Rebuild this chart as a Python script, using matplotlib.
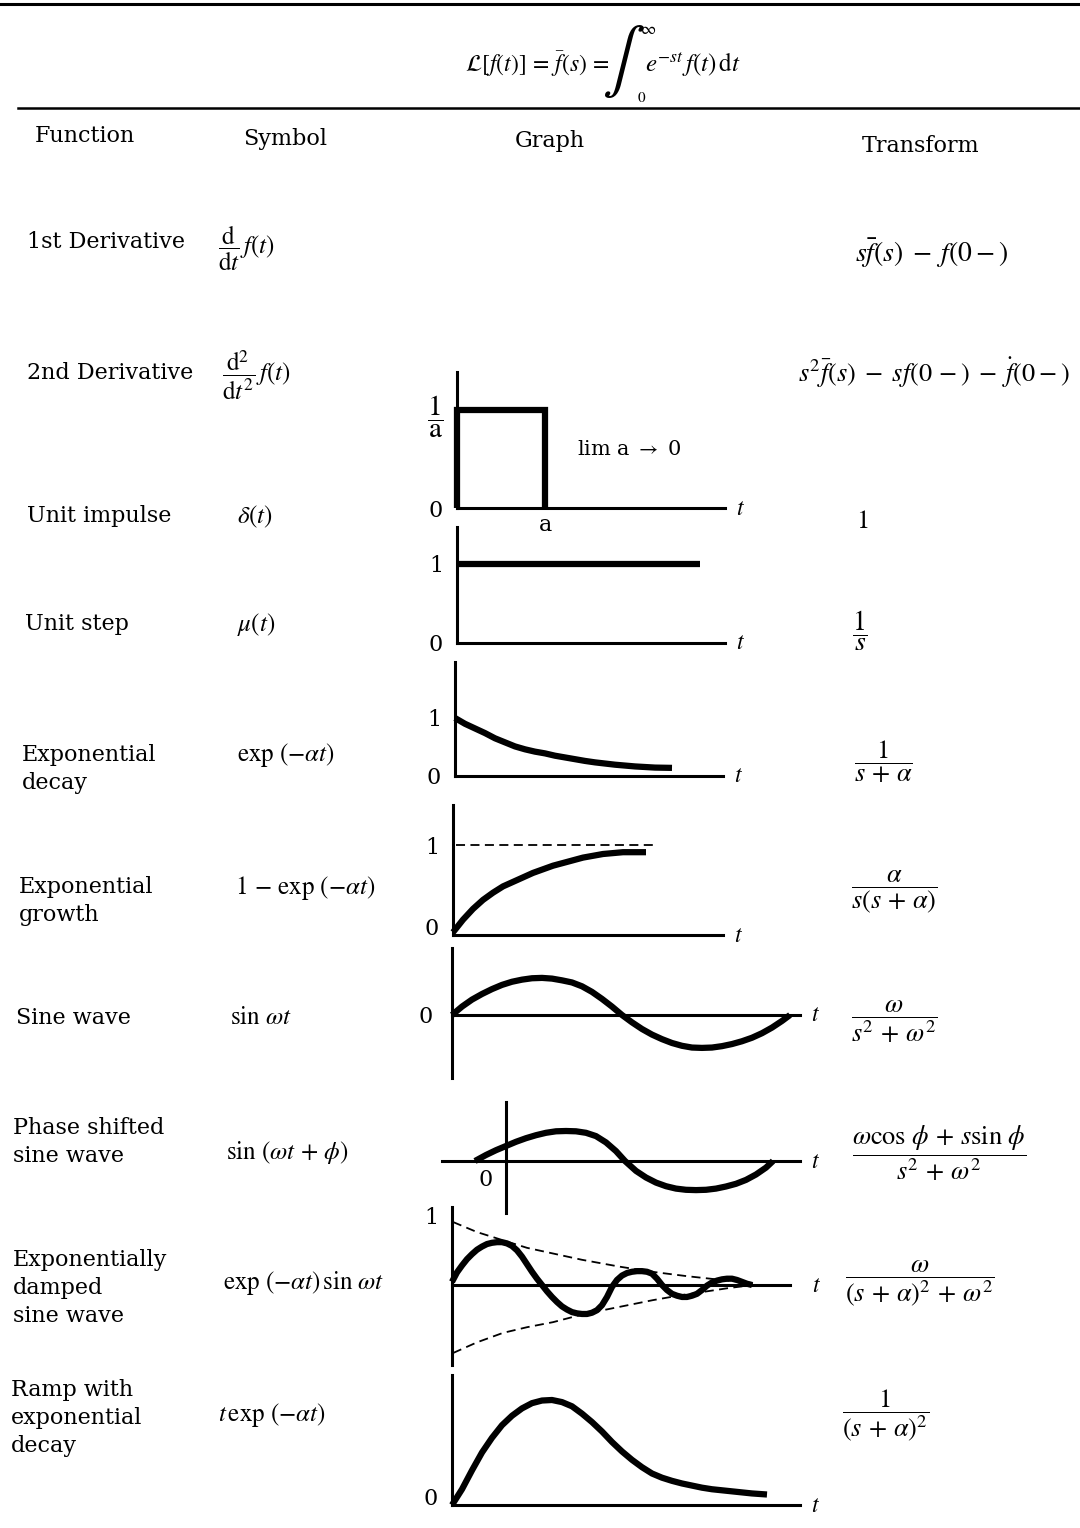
import numpy as np
import matplotlib.pyplot as plt
from matplotlib.lines import Line2D

plt.rcParams['font.family'] = 'DejaVu Serif'
plt.rcParams['mathtext.fontset'] = 'stix'

W, H = 1080, 1528

# table text
functions = ['1st Derivative', '2nd Derivative', 'Unit impulse', 'Unit step',
             'Exponential\ndecay', 'Exponential\ngrowth', 'Sine wave',
             'Phase shifted\nsine wave', 'Exponentially\ndamped\nsine wave',
             'Ramp with\nexponential\ndecay']
symbols = [r'$\dfrac{\mathrm{d}}{\mathrm{d}t}\,f(t)$',
           r'$\dfrac{\mathrm{d}^2}{\mathrm{d}t^2}\,f(t)$',
           r'$\delta(t)$', r'$\mu(t)$',
           r'$\exp\,(-\alpha t)$', r'$1\,-\,\exp\,(-\alpha t)$',
           r'$\sin\,\omega t$', r'$\sin\,(\omega t\,+\,\phi)$',
           r'$\exp\,(-\alpha t)\,\sin\,\omega t$', r'$t\,\exp\,(-\alpha t)$']
transforms = [r'$s\bar{f}(s)\;-\;f(0-)$',
              r'$s^2\bar{f}(s)\;-\;sf(0\,-)\;-\;\dot{f}(0-)$',
              r'$1$', r'$\dfrac{1}{s}$', r'$\dfrac{1}{s\,+\,\alpha}$',
              r'$\dfrac{\alpha}{s(s\,+\,\alpha)}$',
              r'$\dfrac{\omega}{s^2\,+\,\omega^2}$',
              r'$\dfrac{\omega\cos\,\phi\,+\,s\sin\,\phi}{s^2\,+\,\omega^2}$',
              r'$\dfrac{\omega}{(s\,+\,\alpha)^2\,+\,\omega^2}$',
              r'$\dfrac{1}{(s\,+\,\alpha)^2}$']
headers = ['Function', 'Symbol', 'Graph', 'Transform']

# graph values
impulse_t = [0, 0, 1, 1]
impulse_y = [0, 1, 1, 0]
step_t = [0, 2.43]
step_y = [1, 1]
decay_t = [0, .1, .2, .3, .4, .5, .6, .7, .8, .9, 1.0, 1.1, 1.2, 1.3, 1.4,
           1.5, 1.6, 1.7, 1.8, 1.9, 2.0, 2.17]
decay_y = [1.0, .90, .82, .74, .65, .58, .51, .46, .42, .39, .35, .32, .29,
           .26, .235, .215, .195, .18, .165, .155, .145, .14]
growth_t = [0, .1, .2, .3, .4, .5, .6, .7, .8, .9, 1.0, 1.1, 1.2, 1.3, 1.4,
            1.5, 1.6, 1.7, 1.8, 1.93]
growth_y = [.03, .17, .29, .39, .47, .54, .59, .64, .69, .73, .77, .80, .83,
            .86, .88, .90, .91, .92, .92, .92]
growth_limit_t = [0.03, 2.02]
growth_limit_y = [1, 1]
sine_t = [0, .1, .2, .3, .4, .5, .6, .7, .8, .9, 1.0, 1.1, 1.2, 1.3, 1.4,
          1.5, 1.6, 1.7, 1.8, 1.9, 2.0, 2.1, 2.2, 2.3, 2.4, 2.5, 2.6, 2.7,
          2.8, 2.9, 3.0, 3.1, 3.2, 3.3, 3.38]
sine_y = [0, .24, .44, .60, .74, .86, .95, 1.01, 1.05, 1.06, 1.04, .99, .93,
          .82, .66, .46, .24, 0, -.21, -.40, -.56, -.69, -.80, -.88, -.93,
          -.94, -.93, -.89, -.83, -.75, -.65, -.52, -.36, -.17, 0]
phase_t = [-.31, -.2, -.1, 0, .1, .2, .3, .4, .5, .6, .7, .8, .9, 1.0, 1.1,
           1.19, 1.3, 1.4, 1.5, 1.6, 1.7, 1.8, 1.9, 2.0, 2.1, 2.2, 2.3, 2.4,
           2.5, 2.6, 2.67]
phase_y = [0, .20, .36, .50, .64, .76, .86, .94, .99, 1.0, .99, .94, .83,
           .62, .33, 0, -.33, -.55, -.72, -.84, -.92, -.96, -.97, -.96, -.92,
           -.85, -.76, -.63, -.45, -.22, 0]
damped_t = [0, .05, .1, .15, .2, .25, .3, .35, .4, .45, .5, .55, .6, .65, .7,
            .75, .8, .85, .9, .95, 1.0, 1.05, 1.1, 1.15, 1.2, 1.25, 1.3, 1.35,
            1.4, 1.45, 1.5, 1.55, 1.6, 1.65, 1.7, 1.75, 1.8, 1.85, 1.9, 1.95,
            2.0, 2.05, 2.1, 2.15, 2.2, 2.25, 2.3, 2.35, 2.4, 2.45, 2.5, 2.55,
            2.6, 2.65, 2.7, 2.75, 2.8, 2.85, 2.9, 2.95, 3.0]
damped_y = [.05, .20, .31, .41, .49, .56, .61, .65, .67, .68, .68, .66, .62,
            .55, .45, .33, .21, .10, 0, -.10, -.19, -.27, -.34, -.39, -.43,
            -.45, -.46, -.46, -.44, -.40, -.32, -.19, -.03, .08, .15, .19,
            .21, .22, .22, .21, .18, .10, 0, -.08, -.14, -.17, -.19, -.19,
            -.17, -.14, -.08, -.01, .04, .07, .09, .10, .10, .08, .05, .02, 0]
env_up_t = [.01, .25, .51, .75, 1.01, 1.3, 1.68, 2.0, 2.35, 2.7, 3.01]
env_up_y = [1.0, .84, .71, .59, .50, .40, .29, .21, .14, .08, .03]
env_lo_t = [.01, .25, .51, .75, 1.01, 1.25, 1.51, 1.76, 2.01, 2.26, 2.51,
            2.76, 3.01]
env_lo_y = [-1.08, -.91, -.76, -.67, -.59, -.49, -.40, -.32, -.24, -.17,
            -.11, -.05, 0]
ramp_t = [0, .1, .2, .3, .4, .5, .6, .7, .8, .9, 1.0, 1.1, 1.2, 1.3, 1.4,
          1.5, 1.6, 1.7, 1.8, 1.9, 2.0, 2.1, 2.2, 2.3, 2.4, 2.5, 2.6, 2.7,
          2.8, 2.9, 3.0, 3.15]
ramp_y = [0, .15, .33, .50, .64, .76, .85, .92, .97, .995, 1.0, .98, .94,
          .87, .79, .70, .60, .51, .43, .36, .30, .26, .23, .205, .185, .165,
          .15, .14, .13, .12, .11, .10]

# layout in pixels
header_xy = [(35, 136), (243, 139), (515, 141), (862, 146)]
func_x = [27, 27, 27, 25, 22, 19, 16, 13, 13, 11]
func_y = [242, 373, 516, 624, 755, 887, 1018, 1128, 1260, 1390]
sym_x = [218, 222, 237, 237, 237, 235, 230, 226, 223, 218]
sym_y = [248, 375, 517, 625, 755, 888, 1018, 1153, 1283, 1415]
trans_x = [932, 934, 862, 860, 883, 894, 894, 939, 920, 886]
trans_y = [253, 373, 520, 631, 762, 892, 1022, 1153, 1283, 1415]
trans_size = [20, 19, 19, 20, 19, 19, 19, 19, 19, 19]

fig = plt.figure(figsize=(W / 100, H / 100), dpi=100)


def fx(x):
    return x / W


def fy(y):
    return 1 - y / H


# rules and title formula
fig.add_artist(Line2D([0, 1], [fy(4), fy(4)], color='black', lw=2.2))
fig.add_artist(Line2D([fx(18), 1], [fy(108), fy(108)], color='black', lw=1.8))
fig.text(fx(609), fy(64), r'$\mathcal{L}[f(t)]\,=\,\bar{f}(s)\,=$',
         ha='right', va='center', fontsize=17)
fig.text(fx(623), fy(62), r'$\int$', ha='center', va='center', fontsize=46)
fig.text(fx(648), fy(29), r'$\infty$', ha='center', va='center', fontsize=12)
fig.text(fx(642), fy(98), r'$0$', ha='center', va='center', fontsize=11)
fig.text(fx(645), fy(64), r'$e^{-st}\,f(t)\,\mathrm{d}t$',
         ha='left', va='center', fontsize=18)

for h, (x, y) in zip(headers, header_xy):
    fig.text(fx(x), fy(y), h, ha='left', va='center', fontsize=16)

for name, x, y in zip(functions, func_x, func_y):
    for i, line in enumerate(name.split('\n')):
        fig.text(fx(x), fy(y + i * 28), line, ha='left', va='center',
                 fontsize=16)

for s, x, y in zip(symbols, sym_x, sym_y):
    fig.text(fx(x), fy(y), s, ha='left', va='center', fontsize=18)

for s, x, y, fs in zip(transforms, trans_x, trans_y, trans_size):
    fig.text(fx(x), fy(y), s, ha='center', va='center', fontsize=fs)


def make_graph(x0, x1, y0, y1, ox, oy, ts, ys, t_off=8):
    ax = fig.add_axes([fx(x0), fy(y1), (x1 - x0) / W, (y1 - y0) / H])
    ax.set_xlim((x0 - ox) / ts, (x1 - ox) / ts)
    ax.set_ylim((oy - y1) / ys, (oy - y0) / ys)
    ax.patch.set_alpha(0)
    for s in ['top', 'right']:
        ax.spines[s].set_visible(False)
    for s in ['left', 'bottom']:
        ax.spines[s].set_position(('data', 0))
        ax.spines[s].set_linewidth(2.2)
    ax.set_xticks([])
    ax.set_yticks([])
    ax.tick_params(length=0, labelsize=16, pad=10)
    ax.annotate(r'$t$', xy=(1, 0), xycoords=('axes fraction', 'data'),
                xytext=(t_off, 0), textcoords='offset points',
                ha='left', va='center', fontsize=17)
    return ax


curve = dict(color='black', lw=4.5, solid_capstyle='butt',
             solid_joinstyle='round', clip_on=False)
dash = dict(color='black', lw=1.3, ls=(0, (5, 3)), clip_on=False)

ax = make_graph(457, 725, 372, 508, 457, 508, 88, 98)
ax.plot(impulse_t, impulse_y, color='black', lw=4.5, solid_joinstyle='miter',
        solid_capstyle='butt', clip_on=False)
ax.set_yticks([0, 1], ['0', r'$\dfrac{1}{\mathrm{a}}$'])
ax.get_yticklabels()[1].set_fontsize(21)
ax.set_xticks([1], ['a'])
ax.tick_params(axis='x', pad=4)
ax.text(1.36, 0.6, r'lim a $\rightarrow$ 0', ha='left', va='center',
        fontsize=15)

ax = make_graph(457, 725, 527, 643, 457, 643, 100, 79)
ax.plot(step_t, step_y, **curve)
ax.set_yticks([0, 1], ['0', '1'])

ax = make_graph(455, 723, 662, 776, 455, 776, 100, 58)
ax.plot(decay_t, decay_y, **curve)
ax.set_yticks([0, 1], ['0', '1'])

ax = make_graph(453, 723, 805, 935, 453, 935, 100, 90)
ax.plot(growth_limit_t, growth_limit_y, **dash)
ax.plot(growth_t, growth_y, **curve)
ax.set_yticks([0.09, 1], ['0', '1'])

ax = make_graph(452, 800, 948, 1078, 452, 1015, 100, 35)
ax.plot(sine_t, sine_y, **curve)
ax.set_yticks([0], ['0'])
ax.tick_params(axis='y', pad=14)

ax = make_graph(442, 800, 1102, 1213, 506, 1161, 100, 30)
ax.plot(phase_t, phase_y, **curve)
ax.text(-0.2, -0.63, '0', ha='center', va='center', fontsize=16)

ax = make_graph(452, 790, 1207, 1365, 452, 1285, 100, 63, t_off=16)
ax.plot(env_up_t, env_up_y, **dash)
ax.plot(env_lo_t, env_lo_y, **dash)
ax.plot(damped_t, damped_y, **curve)
ax.set_yticks([1.11], ['1'])

ax = make_graph(452, 800, 1375, 1505, 452, 1505, 100, 105)
ax.plot(ramp_t, ramp_y, **curve)
ax.set_yticks([0.08], ['0'])

fig.savefig('out.png', dpi=100)
